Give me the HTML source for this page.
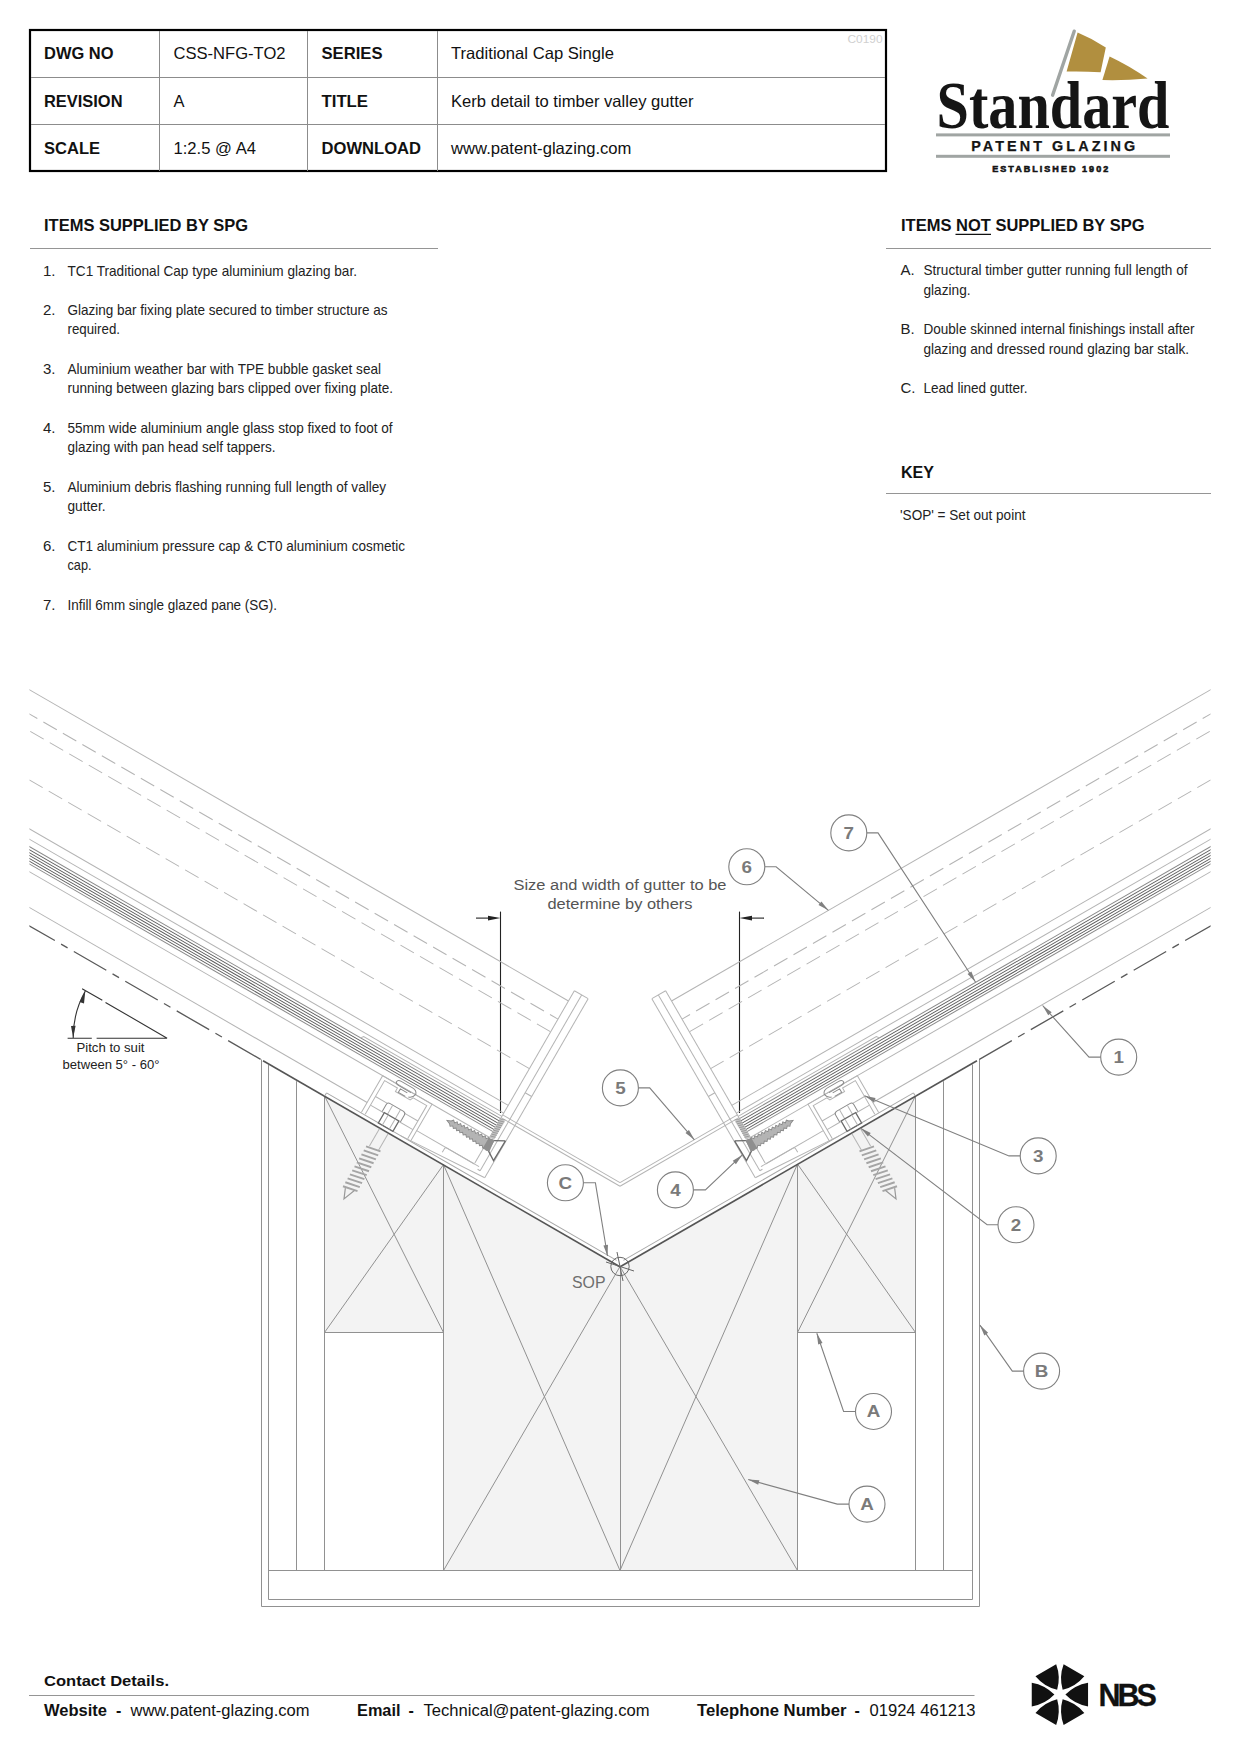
<!DOCTYPE html>
<html><head><meta charset="utf-8">
<style>
html,body{margin:0;padding:0;background:#fff;}
body{width:1240px;height:1754px;overflow:hidden;position:relative;}
svg{position:absolute;left:0;top:0;display:block;}
text{font-family:"Liberation Sans",sans-serif;}
.b{font-weight:bold;}
.h{font-size:16.5px;fill:#111;}
.li{font-size:15px;fill:#222;}
</style></head><body>
<svg width="1240" height="1754" viewBox="0 0 1240 1754">
<!-- ===== Title table ===== -->
<g id="table">
<rect x="30" y="30" width="856" height="141" fill="none" stroke="#000" stroke-width="2.2"/>
<g stroke="#8c8c8c" stroke-width="1">
<line x1="31" y1="77.5" x2="885" y2="77.5"/>
<line x1="31" y1="124.5" x2="885" y2="124.5"/>
<line x1="159.5" y1="31" x2="159.5" y2="171"/>
<line x1="307.5" y1="31" x2="307.5" y2="171"/>
<line x1="437.5" y1="31" x2="437.5" y2="171"/>
</g>
<text x="847.5" y="42.7" font-size="11.5" fill="#d0d0d0" textLength="35" lengthAdjust="spacingAndGlyphs">C0190</text>
<g class="h">
<text class="b" x="44" y="58.6" textLength="69.5" lengthAdjust="spacingAndGlyphs">DWG NO</text>
<text class="b" x="44" y="106.8" textLength="78.5" lengthAdjust="spacingAndGlyphs">REVISION</text>
<text class="b" x="44" y="153.8" textLength="56" lengthAdjust="spacingAndGlyphs">SCALE</text>
<text x="173.5" y="58.6" textLength="112" lengthAdjust="spacingAndGlyphs">CSS-NFG-TO2</text>
<text x="173.5" y="106.8">A</text>
<text x="173.5" y="153.8" textLength="82.5" lengthAdjust="spacingAndGlyphs">1:2.5 @ A4</text>
<text class="b" x="321.5" y="58.6" textLength="61" lengthAdjust="spacingAndGlyphs">SERIES</text>
<text class="b" x="321.5" y="106.8" textLength="46.5" lengthAdjust="spacingAndGlyphs">TITLE</text>
<text class="b" x="321.5" y="153.8" textLength="99.5" lengthAdjust="spacingAndGlyphs">DOWNLOAD</text>
<text x="451" y="58.6" textLength="163" lengthAdjust="spacingAndGlyphs">Traditional Cap Single</text>
<text x="451" y="106.8" textLength="242.5" lengthAdjust="spacingAndGlyphs">Kerb detail to timber valley gutter</text>
<text x="451" y="153.8" textLength="180.5" lengthAdjust="spacingAndGlyphs">www.patent-glazing.com</text>
</g>
</g>

<!-- ===== Items supplied ===== -->
<g id="items">
<text class="b h" x="44" y="231" textLength="204" lengthAdjust="spacingAndGlyphs">ITEMS SUPPLIED BY SPG</text>
<line x1="30" y1="248.5" x2="438" y2="248.5" stroke="#959595" stroke-width="1"/>
<g class="li">
<text x="43" y="275.5">1.</text>
<text x="67.5" y="275.5" textLength="289.5" lengthAdjust="spacingAndGlyphs">TC1 Traditional Cap type aluminium glazing bar.</text>
<text x="43" y="314.5">2.</text>
<text x="67.5" y="314.5" textLength="320" lengthAdjust="spacingAndGlyphs">Glazing bar fixing plate secured to timber structure as</text>
<text x="67.5" y="334.2" textLength="52.5" lengthAdjust="spacingAndGlyphs">required.</text>
<text x="43" y="373.7">3.</text>
<text x="67.5" y="373.7" textLength="313.5" lengthAdjust="spacingAndGlyphs">Aluminium weather bar with TPE bubble gasket seal</text>
<text x="67.5" y="393.4" textLength="325.5" lengthAdjust="spacingAndGlyphs">running between glazing bars clipped over fixing plate.</text>
<text x="43" y="432.6">4.</text>
<text x="67.5" y="432.6" textLength="325" lengthAdjust="spacingAndGlyphs">55mm wide aluminium angle glass stop fixed to foot of</text>
<text x="67.5" y="452.3" textLength="208" lengthAdjust="spacingAndGlyphs">glazing with pan head self tappers.</text>
<text x="43" y="491.6">5.</text>
<text x="67.5" y="491.6" textLength="318.5" lengthAdjust="spacingAndGlyphs">Aluminium debris flashing running full length of valley</text>
<text x="67.5" y="511.2" textLength="38" lengthAdjust="spacingAndGlyphs">gutter.</text>
<text x="43" y="550.6">6.</text>
<text x="67.5" y="550.6" textLength="337.5" lengthAdjust="spacingAndGlyphs">CT1 aluminium pressure cap &amp; CT0 aluminium cosmetic</text>
<text x="67.5" y="570.2" textLength="24" lengthAdjust="spacingAndGlyphs">cap.</text>
<text x="43" y="609.6">7.</text>
<text x="67.5" y="609.6" textLength="209.5" lengthAdjust="spacingAndGlyphs">Infill 6mm single glazed pane (SG).</text>
</g>
</g>

<!-- ===== Items not supplied / key ===== -->
<g id="notitems">
<text class="b h" x="901" y="230.7" textLength="243.5" lengthAdjust="spacingAndGlyphs">ITEMS NOT SUPPLIED BY SPG</text>
<line x1="955.5" y1="234.3" x2="991" y2="234.3" stroke="#111" stroke-width="1.3"/>
<line x1="886" y1="248.5" x2="1211" y2="248.5" stroke="#959595" stroke-width="1"/>
<g class="li">
<text x="900.5" y="274.6">A.</text>
<text x="923.5" y="274.6" textLength="264" lengthAdjust="spacingAndGlyphs">Structural timber gutter running full length of</text>
<text x="923.5" y="294.8" textLength="47" lengthAdjust="spacingAndGlyphs">glazing.</text>
<text x="900.5" y="333.6">B.</text>
<text x="923.5" y="333.6" textLength="271" lengthAdjust="spacingAndGlyphs">Double skinned internal finishings install after</text>
<text x="923.5" y="353.6" textLength="265.5" lengthAdjust="spacingAndGlyphs">glazing and dressed round glazing bar stalk.</text>
<text x="900.5" y="392.5">C.</text>
<text x="923.5" y="392.5" textLength="104" lengthAdjust="spacingAndGlyphs">Lead lined gutter.</text>
</g>
<text class="b h" x="901" y="477.5" textLength="33" lengthAdjust="spacingAndGlyphs">KEY</text>
<line x1="886" y1="493.5" x2="1211" y2="493.5" stroke="#959595" stroke-width="1"/>
<text class="li" x="900" y="519.8" textLength="125.5" lengthAdjust="spacingAndGlyphs">'SOP' = Set out point</text>
</g>


<defs>
<clipPath id="clipD"><rect x="29.4" y="600" width="1181.2" height="1100"/></clipPath>
<g id="halfL">
<line x1="500.5" y1="911.6" x2="500.5" y2="1113" class="dim"/>
<line x1="476" y1="918.1" x2="490" y2="918.1" class="dim"/>
<path d="M500.5 918.1 L488 915.8 L488 920.4 Z" fill="#222"/>
<g transform="translate(620 1266.5) rotate(30)">
<line x1="-900" y1="-204.2" x2="-177.4" y2="-204.2" class="lt"/>
<line x1="-816.6" y1="-183.2" x2="-177.4" y2="-183.2" class="lt dsh"/>
<line x1="-823.3" y1="-168.6" x2="-177.4" y2="-168.6" class="lt dsh"/>
<line x1="-799.9" y1="-126" x2="-177.4" y2="-126" class="lt dsh"/>
<line x1="-900" y1="-83.7" x2="-177.4" y2="-83.7" class="lt"/>
<line x1="-900" y1="-74.7" x2="-177.4" y2="-74.7" class="lt"/>
<line x1="-900" y1="-68.3" x2="-177.4" y2="-68.3" class="md"/>
<path d="M-339 -68.3 L-337 -71 L-177.4 -71" class="lt"/>
<line x1="-900" y1="-65.7" x2="-177.4" y2="-65.7" class="dk"/>
<line x1="-900" y1="-63.1" x2="-177.4" y2="-63.1" class="dk"/>
<line x1="-900" y1="-60.6" x2="-177.4" y2="-60.6" class="dk"/>
<line x1="-900" y1="-58.1" x2="-177.4" y2="-58.1" class="dk"/>
<line x1="-900" y1="-55.7" x2="-177.4" y2="-55.7" class="dk"/>
<line x1="-900" y1="-53.3" x2="-177.4" y2="-53.3" class="md"/>
<line x1="-900" y1="-46.6" x2="-177.4" y2="-46.6" class="lt"/>
<line x1="-900" y1="-15.6" x2="-301" y2="-15.6" class="lt"/>
<line x1="-244" y1="-16" x2="-177.4" y2="-16" class="lt"/>
<line x1="-749.3" y1="0.3" x2="-412" y2="0.3" class="dk dd"/>
<line x1="-412" y1="0.3" x2="0" y2="0.3" class="dk2"/>
<line x1="-341" y1="-3.6" x2="-6" y2="-3.6" class="lt2"/>
<line x1="-341" y1="-3.6" x2="-341" y2="0" class="lt2"/>
<line x1="-177.4" y1="-216" x2="-177.4" y2="-17" class="lt"/>
<line x1="-169" y1="-216" x2="-169" y2="-13" class="lt"/>
<line x1="-161.5" y1="-216" x2="-161.5" y2="-9.2" class="lt"/>
<line x1="-177.4" y1="-216" x2="-161.5" y2="-216" class="lt"/>
<line x1="-161.5" y1="-103" x2="-169" y2="-103" class="lt"/>
<path d="M-161.5 -9.2 L-255 -3.6" class="lt"/>
<path d="M-169.0 -13 L-172 -13" class="lt"/>
<path d="M-172 -16 L-209 -16 Q-211 -16 -211 -14 L-211 -10" class="lt"/>
<line x1="-177.4" y1="-72.6" x2="-41.92" y2="-72.6" class="lt"/>
<line x1="-177.4" y1="-69.5" x2="-40.13" y2="-69.5" class="lt"/>
<path d="M-301 -4 L-301 -46.6 L-244 -46.6 L-244 -4" class="lt"/>
<path d="M-296.8 -4.5 L-296.8 -43.3 L-282 -43.3 L-282 -39.3 L-265 -39.3 L-263.5 -42.7 L-247.8 -42.7 L-247.8 -4.5" class="lt"/>
<line x1="-296.8" y1="-25" x2="-283" y2="-25" class="lt"/>
<line x1="-263" y1="-25" x2="-247.8" y2="-25" class="lt"/>
<line x1="-296.8" y1="-15" x2="-281" y2="-15" class="lt"/>
<line x1="-263.5" y1="-15" x2="-247.8" y2="-15" class="lt"/>
<path d="M-271 -40 L-279 -40 L-279 -44 L-271 -44 M-268 -41 Q-264 -42 -263 -47 Q-264 -51 -269 -51 L-282 -51 Q-286 -51 -286 -48 Q-285 -46 -281 -46 L-268 -46" class="md"/>
<path d="M-283.5 -15.4 L-283.5 -23.5 Q-283.5 -26.2 -280.5 -26.2 L-265.5 -26.2 Q-262.5 -26.2 -262.5 -23.5 L-262.5 -15.4" class="md"/>
<line x1="-277.5" y1="-15.4" x2="-277.5" y2="-26" class="lt"/>
<line x1="-268.5" y1="-15.4" x2="-268.5" y2="-26" class="lt"/>
<path d="M-281 -15.4 L-264.2 -15.4 L-264.2 -3.4 L-281 -3.4 Z" class="hd"/>
<line x1="-276.5" y1="-15.4" x2="-276.5" y2="-3.4" class="lt"/>
<line x1="-268.5" y1="-15.4" x2="-268.5" y2="-3.4" class="lt"/>
<line x1="-277.2" y1="1" x2="-277.2" y2="21" class="lt"/>
<line x1="-267.2" y1="1" x2="-267.2" y2="21" class="lt"/>
<path d="M-280 23 L-265 20 M-280 27.6 L-265 24.6 M-280 32.2 L-265 29.2 M-280 36.8 L-265 33.8 M-280 41.4 L-265 38.4 M-280 46 L-265 43 M-280 50.6 L-265 47.6 M-280 55.2 L-265 52.2 M-280 59.8 L-265 56.8 M-280 64.4 L-265 61.4 M-280 69 L-265 66" class="scr"/>
<path d="M-277 69.5 L-272.8 79.5 L-268 67" class="scr2"/>
<path d="M-223 -40 L-219 -41.6 L-217.24 -43.6 L-215.09 -41.6 L-213.33 -43.84 L-211.18 -41.84 L-209.42 -44.07 L-207.27 -42.07 L-205.51 -44.31 L-203.36 -42.31 L-201.6 -44.55 L-199.45 -42.55 L-197.7 -44.78 L-195.55 -42.78 L-193.79 -45.02 L-191.64 -43.02 L-189.88 -45.25 L-187.73 -43.25 L-185.97 -45.49 L-183.82 -43.49 L-182.06 -45.73 L-179.91 -43.73 L-178.15 -45.96 L-176 -43.96 L-174.24 -46.2 L-172.09 -44.2 L-172 -45.5 L-172 -34.5 L-174.24 -33.8 L-176 -35.8 L-178.15 -34.04 L-179.91 -36.04 L-182.06 -34.27 L-183.82 -36.27 L-185.97 -34.51 L-187.73 -36.51 L-189.88 -34.75 L-191.64 -36.75 L-193.79 -34.98 L-195.55 -36.98 L-197.7 -35.22 L-199.45 -37.22 L-201.6 -35.45 L-203.36 -37.45 L-205.51 -35.69 L-207.27 -37.69 L-209.42 -35.93 L-211.18 -37.93 L-213.33 -36.16 L-215.09 -38.16 L-217.24 -36.4 L-219 -38.4 Z" class="scrf"/>
<path d="M-172 -46 L-162 -51.5 M-172 -34.5 L-162.5 -28.5 L-162 -51.5" class="hd"/>
<path d="M-178 -46 L-172 -46.5 L-170.5 -34 L-178 -33.5 Z" fill="#8f8f8f"/>
<path d="M-177.4 -68.5 L-172.4 -68.5 L-172.4 -46.5 L-177.4 -46.5 Z" fill="#c4c4c4"/>
<path d="M-177.4 -68 L-172.4 -69.5 M-177.4 -65.8 L-172.4 -67.3 M-177.4 -63.6 L-172.4 -65.1 M-177.4 -61.4 L-172.4 -62.9 M-177.4 -59.2 L-172.4 -60.7 M-177.4 -57 L-172.4 -58.5 M-177.4 -54.8 L-172.4 -56.3 M-177.4 -52.6 L-172.4 -54.1 M-177.4 -50.4 L-172.4 -51.9 M-177.4 -48.2 L-172.4 -49.7" stroke="#8f8f8f" stroke-width="0.7" fill="none"/>
</g>
</g>
</defs>
<style>
.lt{stroke:#b4b4b4;stroke-width:1;fill:none}
.md{stroke:#8a8a8a;stroke-width:1;fill:none}
.dk{stroke:#5a5a5a;stroke-width:0.9;fill:none}
.dk2{stroke:#555;stroke-width:1.6;fill:none}
.dsh{stroke-dasharray:15.5 7}
.dd{stroke-dasharray:37.5 7.2 7.5 7.2;stroke-width:1.3}
.scr{stroke:#a5a5a5;stroke-width:1.9;fill:none}
.scrf{fill:#b4b4b4;stroke:#8a8a8a;stroke-width:0.9}
.scr2{stroke:#999;stroke-width:1.2;fill:none}
.hd{stroke:#6a6a6a;stroke-width:1.3;fill:none}
.lt2{stroke:#a8a8a8;stroke-width:1;fill:none}
.fill{fill:#f3f3f3;stroke:none}
.tm{stroke:#919191;stroke-width:1;fill:none}
.dim{stroke:#222;stroke-width:1.1;fill:none}
.co{stroke:#808080;stroke-width:1.1;fill:none}
.ah{fill:#808080}
.col{font-family:"Liberation Sans",sans-serif;font-weight:bold;font-size:16.5px;fill:#7a7a7a;text-anchor:middle}
.sop{stroke:#666;stroke-width:1;fill:none}
.sopt{font-size:16px;fill:#6e6e6e}
.note{font-size:15.5px;fill:#555}
.pd{stroke:#333;stroke-width:1.1;fill:none}
.pt{font-size:13px;fill:#222}
</style>
<path d="M324.5 1095.89 L443.5 1164.6 L443.5 1332.5 L324.5 1332.5 Z" class="fill"/>
<path d="M443.5 1164.6 L620 1266.5 L797.5 1164.02 L797.5 1570.5 L443.5 1570.5 Z" class="fill"/>
<path d="M797.5 1164.02 L915.5 1095.89 L915.5 1332.5 L797.5 1332.5 Z" class="fill"/>
<line x1="324.5" y1="1095.89" x2="443.5" y2="1332.5" class="tm"/>
<line x1="443.5" y1="1164.6" x2="324.5" y2="1332.5" class="tm"/>
<line x1="915.5" y1="1095.89" x2="797.5" y2="1332.5" class="tm"/>
<line x1="797.5" y1="1164.02" x2="915.5" y2="1332.5" class="tm"/>
<line x1="443.5" y1="1164.6" x2="620" y2="1570.5" class="tm"/>
<line x1="620" y1="1266.5" x2="443.5" y2="1570.5" class="tm"/>
<line x1="797.5" y1="1164.02" x2="620" y2="1570.5" class="tm"/>
<line x1="620" y1="1266.5" x2="797.5" y2="1570.5" class="tm"/>
<line x1="324.5" y1="1332.5" x2="443.5" y2="1332.5" class="tm"/>
<line x1="797.5" y1="1332.5" x2="915.5" y2="1332.5" class="tm"/>
<line x1="620.5" y1="1266.5" x2="620.5" y2="1570.5" class="tm"/>
<line x1="261.5" y1="1059.52" x2="261.5" y2="1606.5" class="tm"/>
<line x1="979.5" y1="1058.94" x2="979.5" y2="1606.5" class="tm"/>
<line x1="268.5" y1="1065.06" x2="268.5" y2="1599.5" class="tm"/>
<line x1="972.5" y1="1064.48" x2="972.5" y2="1599.5" class="tm"/>
<line x1="296.5" y1="1081.23" x2="296.5" y2="1570.5" class="tm"/>
<line x1="943.5" y1="1081.23" x2="943.5" y2="1570.5" class="tm"/>
<line x1="324.5" y1="1095.89" x2="324.5" y2="1570.5" class="tm"/>
<line x1="915.5" y1="1095.89" x2="915.5" y2="1570.5" class="tm"/>
<line x1="443.5" y1="1164.6" x2="443.5" y2="1570.5" class="tm"/>
<line x1="797.5" y1="1164.02" x2="797.5" y2="1570.5" class="tm"/>
<line x1="268.5" y1="1570.5" x2="972.5" y2="1570.5" class="tm"/>
<line x1="268.5" y1="1599.5" x2="972.5" y2="1599.5" class="tm"/>
<line x1="261.5" y1="1606.5" x2="979.5" y2="1606.5" class="tm"/>
<g clip-path="url(#clipD)">
<use href="#halfL"/>
<use href="#halfL" transform="translate(1240 0) scale(-1 1)"/>
</g>
<circle cx="848.8" cy="832.9" r="18" class="co"/>
<text x="848.8" y="838.7" class="col" textLength="10.46" lengthAdjust="spacingAndGlyphs">7</text>
<path d="M866.8 832.9 L878 832.9 L975.5 982" class="co"/>
<path d="M975.5 982 L967.55 974.05 L971.4 971.53 Z" class="ah"/>
<circle cx="746.8" cy="866.8" r="18" class="co"/>
<text x="746.8" y="872.6" class="col" textLength="10.46" lengthAdjust="spacingAndGlyphs">6</text>
<path d="M764.8 866.8 L776.1 866.8 L828.4 910.3" class="co"/>
<path d="M828.4 910.3 L818.47 905.03 L821.41 901.5 Z" class="ah"/>
<circle cx="620.4" cy="1087.9" r="18" class="co"/>
<text x="620.4" y="1093.7" class="col" textLength="10.46" lengthAdjust="spacingAndGlyphs">5</text>
<path d="M638.4 1087.9 L649.7 1087.9 L694.4 1139.8" class="co"/>
<path d="M694.4 1139.8 L685.48 1132.97 L688.96 1129.96 Z" class="ah"/>
<circle cx="675.4" cy="1189.9" r="18" class="co"/>
<text x="675.4" y="1195.7" class="col" textLength="10.46" lengthAdjust="spacingAndGlyphs">4</text>
<path d="M693.4 1189.9 L705.4 1189.9 L742.3 1154.9" class="co"/>
<path d="M742.3 1154.9 L735.9 1164.14 L732.74 1160.8 Z" class="ah"/>
<circle cx="565.4" cy="1182.8" r="18" class="co"/>
<text x="565.4" y="1188.6" class="col" textLength="13.58" lengthAdjust="spacingAndGlyphs">C</text>
<path d="M583.4 1182.8 L595.4 1182.8 L607.5 1256" class="co"/>
<path d="M607.5 1256 L603.44 1245.52 L607.98 1244.77 Z" class="ah"/>
<circle cx="1118.7" cy="1057.1" r="18" class="co"/>
<text x="1118.7" y="1062.9" class="col" textLength="10.46" lengthAdjust="spacingAndGlyphs">1</text>
<path d="M1100.7 1057.1 L1089 1057.1 L1042.6 1005.5" class="co"/>
<path d="M1042.6 1005.5 L1051.67 1012.14 L1048.24 1015.22 Z" class="ah"/>
<circle cx="1038.2" cy="1155.9" r="18" class="co"/>
<text x="1038.2" y="1161.7" class="col" textLength="10.46" lengthAdjust="spacingAndGlyphs">3</text>
<path d="M1020.2 1155.9 L1009 1155.9 L864.5 1095.8" class="co"/>
<path d="M864.5 1095.8 L875.54 1097.9 L873.77 1102.15 Z" class="ah"/>
<circle cx="1016" cy="1224.8" r="18" class="co"/>
<text x="1016" y="1230.6" class="col" textLength="10.46" lengthAdjust="spacingAndGlyphs">2</text>
<path d="M998 1224.8 L987.1 1224.8 L860.6 1128.1" class="co"/>
<path d="M860.6 1128.1 L870.74 1132.95 L867.94 1136.61 Z" class="ah"/>
<circle cx="1041.6" cy="1371.1" r="18" class="co"/>
<text x="1041.6" y="1376.9" class="col" textLength="13.58" lengthAdjust="spacingAndGlyphs">B</text>
<path d="M1023.6 1371.1 L1012.3 1371.1 L979.9 1325.1" class="co"/>
<path d="M979.9 1325.1 L988.11 1332.77 L984.35 1335.42 Z" class="ah"/>
<circle cx="873.5" cy="1411.5" r="18" class="co"/>
<text x="873.5" y="1417.3" class="col" textLength="13.58" lengthAdjust="spacingAndGlyphs">A</text>
<path d="M855.5 1411.5 L843.6 1411.5 L816.8 1333.3" class="co"/>
<path d="M816.8 1333.3 L822.54 1342.96 L818.19 1344.45 Z" class="ah"/>
<circle cx="867" cy="1504.1" r="18" class="co"/>
<text x="867" y="1509.9" class="col" textLength="13.58" lengthAdjust="spacingAndGlyphs">A</text>
<path d="M849 1504.1 L837.3 1504.1 L748.2 1479.5" class="co"/>
<path d="M748.2 1479.5 L759.42 1480.21 L758.19 1484.64 Z" class="ah"/>
<circle cx="620" cy="1266.5" r="9.2" class="sop"/>
<path d="M606 1262 L634 1271 M617 1252 L623 1281" class="sop"/>
<text x="572" y="1288" class="sopt" textLength="33.5" lengthAdjust="spacingAndGlyphs">SOP</text>
<text x="513.5" y="889.7" class="note" textLength="213" lengthAdjust="spacingAndGlyphs">Size and width of gutter to be</text>
<text x="547.5" y="908.5" class="note" textLength="145" lengthAdjust="spacingAndGlyphs">determine by others</text>
<path d="M67.6 1038.2 L91.8 1038.2 M96.6 1038.2 L167.1 1038.2 M82.1 988.7 L102.3 1000.3 M105.5 1002.4 L167.1 1038.2" class="pd"/>
<path d="M85.3 991.1 A94 94 0 0 0 73.2 1037.9" class="pd" fill="none"/>
<path d="M85.3 991.1 L79.5 1002 L84 1003.5 Z M73.2 1037.9 L71 1026 L75.6 1025.8 Z" fill="#333"/>
<text x="76.5" y="1052.4" class="pt" textLength="68" lengthAdjust="spacingAndGlyphs">Pitch to suit</text>
<text x="62.5" y="1068.5" class="pt" textLength="97" lengthAdjust="spacingAndGlyphs">between 5&#176; - 60&#176;</text>


<!-- ===== Footer ===== -->
<g id="footer">
<text class="b" x="44" y="1686" font-size="15.5" fill="#111" textLength="125" lengthAdjust="spacingAndGlyphs">Contact Details.</text>
<line x1="29" y1="1695.5" x2="974.5" y2="1695.5" stroke="#959595" stroke-width="1"/>
<g font-size="16" fill="#111">
<text class="b" x="44" y="1715.5" textLength="63" lengthAdjust="spacingAndGlyphs">Website</text>
<text class="b" x="116" y="1716">-</text>
<text x="130.5" y="1716" textLength="179" lengthAdjust="spacingAndGlyphs">www.patent-glazing.com</text>
<text class="b" x="357" y="1716" textLength="43.5" lengthAdjust="spacingAndGlyphs">Email</text>
<text class="b" x="408.5" y="1716">-</text>
<text x="423.5" y="1716" textLength="226" lengthAdjust="spacingAndGlyphs">Technical@patent-glazing.com</text>
<text class="b" x="697" y="1716" textLength="149.5" lengthAdjust="spacingAndGlyphs">Telephone Number</text>
<text class="b" x="854.5" y="1716">-</text>
<text x="869.5" y="1716" textLength="106" lengthAdjust="spacingAndGlyphs">01924 461213</text>
</g>
</g>

<!-- ===== Standard logo ===== -->
<g id="logo">
<line x1="1074.2" y1="31.2" x2="1052.6" y2="95.2" stroke="#a0a5a3" stroke-width="3.4" stroke-linecap="round"/>
<path d="M1077.6 32.6 Q1092 38.5 1105.8 47.6 L1100.6 72.2 Q1083 71.2 1066.6 71.6 Z" fill="#b18f3f"/>
<path d="M1109.6 56.4 Q1130 66 1147.6 78.6 Q1124 80.6 1102.4 80 Z" fill="#b18f3f"/>
<text x="936.5" y="128" style="font-family:'Liberation Serif',serif;font-weight:bold;font-size:67px" fill="#151515" textLength="233" lengthAdjust="spacingAndGlyphs">Standard</text>
<rect x="936" y="133.4" width="234" height="3" fill="#a0a5a3"/>
<text x="971.2" y="150.6" font-size="14.4" fill="#151515" textLength="164" lengthAdjust="spacing" style="font-weight:bold;stroke:#151515;stroke-width:0.25">PATENT GLAZING</text>
<rect x="936" y="154.8" width="234" height="3" fill="#a0a5a3"/>
<text x="992.2" y="172" font-size="9" fill="#151515" textLength="116" lengthAdjust="spacing" style="font-weight:bold;stroke:#151515;stroke-width:0.6">ESTABLISHED 1902</text>
</g>

<!-- ===== NBS logo ===== -->
<g id="nbs">
<path d="M1054.4 1694.6 Q1045.04 1704.29 1031.75 1706.55 L1031.75 1682.65 Q1045.04 1684.91 1054.4 1694.6 Z M1057.15 1689.84 Q1044.08 1686.57 1035.48 1676.2 L1056.17 1664.25 Q1060.86 1676.88 1057.15 1689.84 Z M1062.65 1689.84 Q1058.94 1676.88 1063.63 1664.25 L1084.32 1676.2 Q1075.72 1686.57 1062.65 1689.84 Z M1065.4 1694.6 Q1074.76 1684.91 1088.05 1682.65 L1088.05 1706.55 Q1074.76 1704.29 1065.4 1694.6 Z M1062.65 1699.36 Q1075.72 1702.63 1084.32 1713 L1063.63 1724.95 Q1058.94 1712.32 1062.65 1699.36 Z M1057.15 1699.36 Q1060.86 1712.32 1056.17 1724.95 L1035.48 1713 Q1044.08 1702.63 1057.15 1699.36 Z" fill="#111"/>
<text x="1098.6" y="1705.8" class="b" font-size="30.5" fill="#111" stroke="#111" stroke-width="0.3" style="letter-spacing:-3.1px">NBS</text>
</g>
</svg>
</body></html>
